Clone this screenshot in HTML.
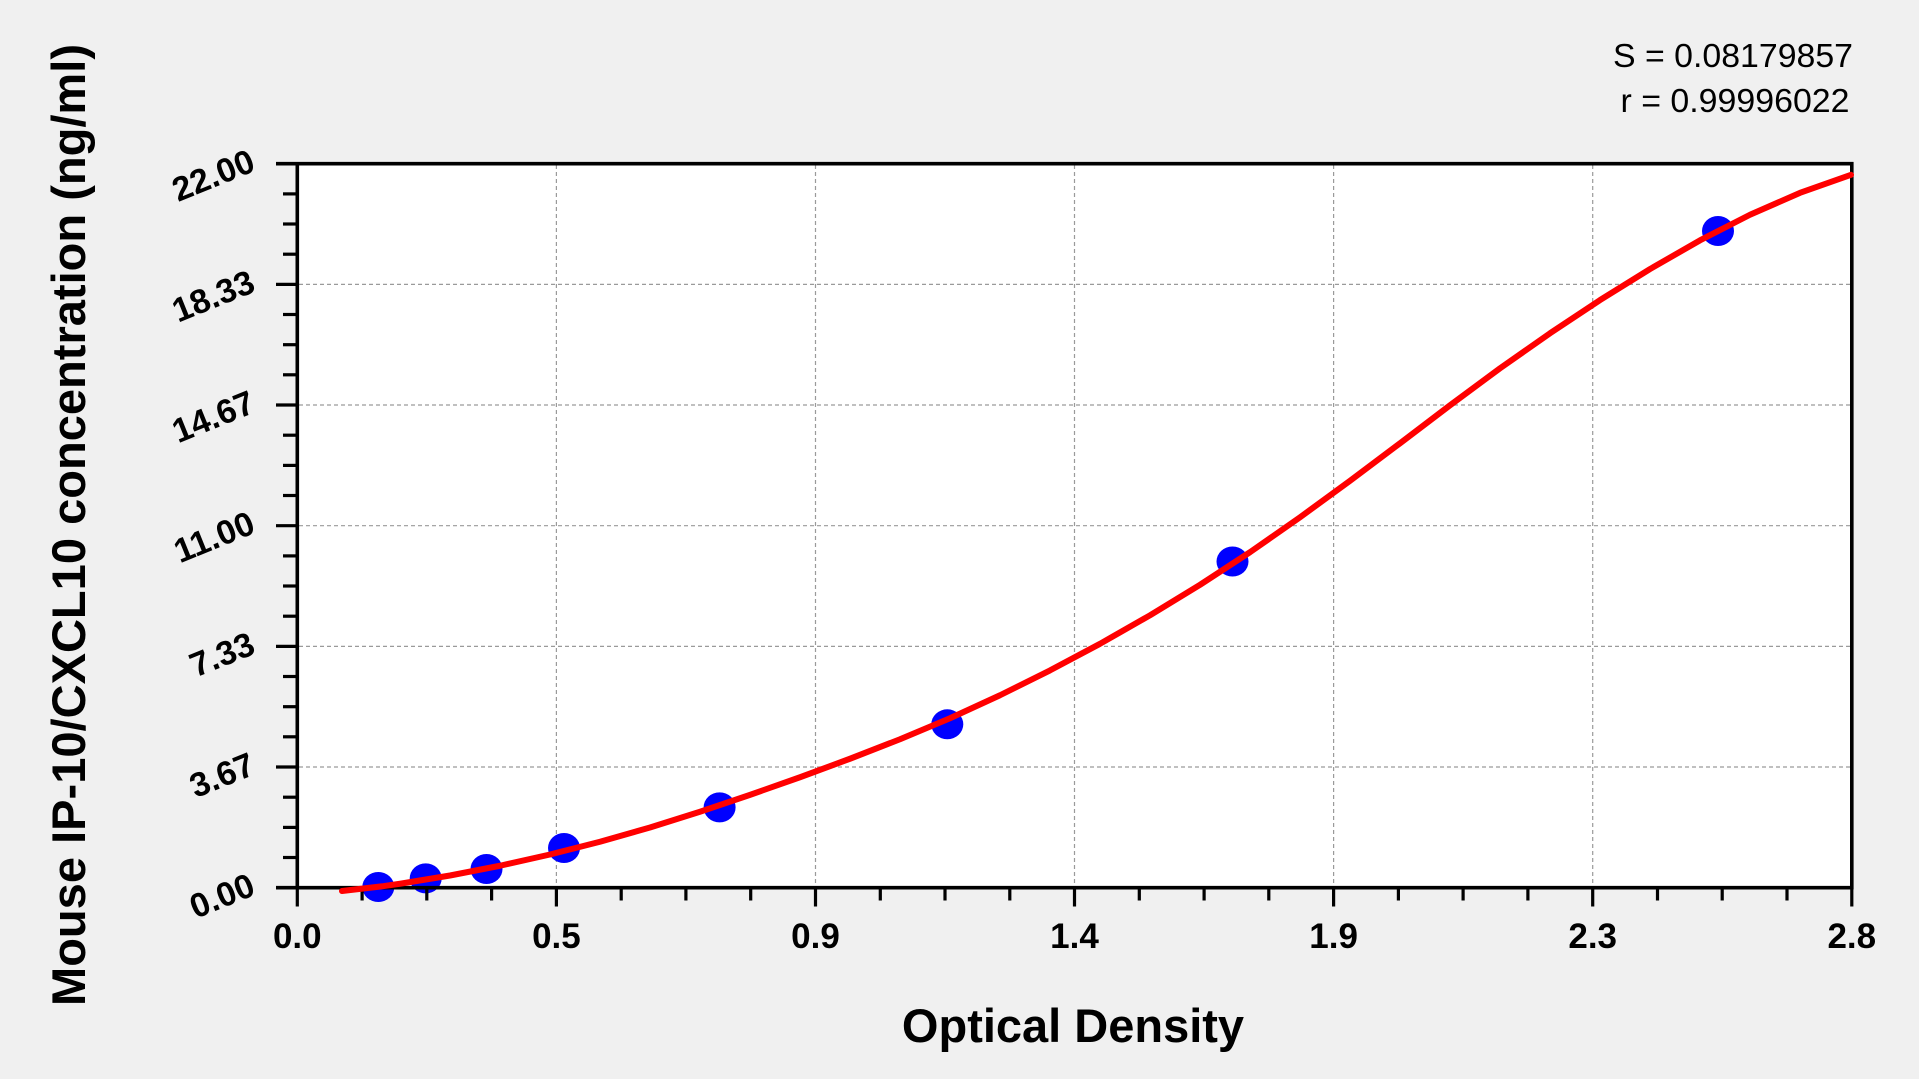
<!DOCTYPE html>
<html>
<head>
<meta charset="utf-8">
<style>
  html, body { margin: 0; padding: 0; background: #f0f0f0; }
  svg { display: block; }
  text { font-family: "Liberation Sans", Arial, sans-serif; fill: #000; }
</style>
</head>
<body>
<svg width="1919" height="1079" viewBox="0 0 1919 1079" xmlns="http://www.w3.org/2000/svg">
  <rect x="0" y="0" width="1919" height="1079" fill="#f0f0f0"/>
  <!-- plot area -->
  <rect x="297.3" y="163.7" width="1554.5" height="724" fill="#ffffff"/>

  <!-- grid -->
  <g stroke="#9a9a9a" stroke-width="1.2" stroke-dasharray="4 3" fill="none">
    <line x1="556.4" y1="165" x2="556.4" y2="886"/>
    <line x1="815.5" y1="165" x2="815.5" y2="886"/>
    <line x1="1074.5" y1="165" x2="1074.5" y2="886"/>
    <line x1="1333.6" y1="165" x2="1333.6" y2="886"/>
    <line x1="1592.7" y1="165" x2="1592.7" y2="886"/>
    <line x1="299" y1="767.0" x2="1850" y2="767.0"/>
    <line x1="299" y1="646.4" x2="1850" y2="646.4"/>
    <line x1="299" y1="525.7" x2="1850" y2="525.7"/>
    <line x1="299" y1="405.0" x2="1850" y2="405.0"/>
    <line x1="299" y1="284.4" x2="1850" y2="284.4"/>
  </g>

  <!-- data points -->
  <g fill="#0000ff">
    <ellipse cx="378.3" cy="887" rx="16" ry="15"/>
    <ellipse cx="425.7" cy="878.4" rx="16" ry="15"/>
    <ellipse cx="486.5" cy="869" rx="16" ry="15"/>
    <ellipse cx="564" cy="848" rx="16" ry="15"/>
    <ellipse cx="719.6" cy="807.4" rx="16" ry="15"/>
    <ellipse cx="947.3" cy="724.3" rx="16" ry="15"/>
    <ellipse cx="1232.5" cy="561.5" rx="16" ry="15"/>
    <ellipse cx="1718" cy="231" rx="16" ry="15"/>
  </g>

  <!-- border / axes -->
  <g stroke="#000" stroke-width="3.6" fill="none">
    <line x1="297.3" y1="162" x2="297.3" y2="889.4"/>
    <line x1="276" y1="887.7" x2="1853.5" y2="887.7"/>
    <line x1="276" y1="163.7" x2="1853.5" y2="163.7"/>
    <line x1="1851.8" y1="162" x2="1851.8" y2="889.4"/>
  </g>

  <!-- y ticks -->
  <g stroke="#000" stroke-width="3.2">
    <line x1="276" y1="767.0" x2="297" y2="767.0"/>
    <line x1="276" y1="646.4" x2="297" y2="646.4"/>
    <line x1="276" y1="525.7" x2="297" y2="525.7"/>
    <line x1="276" y1="405.0" x2="297" y2="405.0"/>
    <line x1="276" y1="284.4" x2="297" y2="284.4"/>
    <line x1="283" y1="857.5" x2="297" y2="857.5"/>
    <line x1="283" y1="827.4" x2="297" y2="827.4"/>
    <line x1="283" y1="797.2" x2="297" y2="797.2"/>
    <line x1="283" y1="736.8" x2="297" y2="736.8"/>
    <line x1="283" y1="706.7" x2="297" y2="706.7"/>
    <line x1="283" y1="676.5" x2="297" y2="676.5"/>
    <line x1="283" y1="616.2" x2="297" y2="616.2"/>
    <line x1="283" y1="586.0" x2="297" y2="586.0"/>
    <line x1="283" y1="555.9" x2="297" y2="555.9"/>
    <line x1="283" y1="495.5" x2="297" y2="495.5"/>
    <line x1="283" y1="465.4" x2="297" y2="465.4"/>
    <line x1="283" y1="435.2" x2="297" y2="435.2"/>
    <line x1="283" y1="374.8" x2="297" y2="374.8"/>
    <line x1="283" y1="344.7" x2="297" y2="344.7"/>
    <line x1="283" y1="314.5" x2="297" y2="314.5"/>
    <line x1="283" y1="254.2" x2="297" y2="254.2"/>
    <line x1="283" y1="224.0" x2="297" y2="224.0"/>
    <line x1="283" y1="193.9" x2="297" y2="193.9"/>
  </g>

  <!-- x ticks -->
  <g stroke="#000" stroke-width="3.2">
    <line x1="297.3" y1="888" x2="297.3" y2="906.5"/>
    <line x1="556.4" y1="888" x2="556.4" y2="906.5"/>
    <line x1="815.5" y1="888" x2="815.5" y2="906.5"/>
    <line x1="1074.5" y1="888" x2="1074.5" y2="906.5"/>
    <line x1="1333.6" y1="888" x2="1333.6" y2="906.5"/>
    <line x1="1592.7" y1="888" x2="1592.7" y2="906.5"/>
    <line x1="1851.8" y1="888" x2="1851.8" y2="906.5"/>
    <line x1="362.1" y1="888" x2="362.1" y2="900.5"/>
    <line x1="426.8" y1="888" x2="426.8" y2="900.5"/>
    <line x1="491.6" y1="888" x2="491.6" y2="900.5"/>
    <line x1="621.2" y1="888" x2="621.2" y2="900.5"/>
    <line x1="685.9" y1="888" x2="685.9" y2="900.5"/>
    <line x1="750.7" y1="888" x2="750.7" y2="900.5"/>
    <line x1="880.3" y1="888" x2="880.3" y2="900.5"/>
    <line x1="945.0" y1="888" x2="945.0" y2="900.5"/>
    <line x1="1009.8" y1="888" x2="1009.8" y2="900.5"/>
    <line x1="1139.3" y1="888" x2="1139.3" y2="900.5"/>
    <line x1="1204.1" y1="888" x2="1204.1" y2="900.5"/>
    <line x1="1268.8" y1="888" x2="1268.8" y2="900.5"/>
    <line x1="1398.4" y1="888" x2="1398.4" y2="900.5"/>
    <line x1="1463.1" y1="888" x2="1463.1" y2="900.5"/>
    <line x1="1527.9" y1="888" x2="1527.9" y2="900.5"/>
    <line x1="1657.5" y1="888" x2="1657.5" y2="900.5"/>
    <line x1="1722.2" y1="888" x2="1722.2" y2="900.5"/>
    <line x1="1787.0" y1="888" x2="1787.0" y2="900.5"/>
  </g>

  <!-- fitted curve -->
  <polyline fill="none" stroke="#ff0000" stroke-width="6" stroke-linejoin="round" stroke-linecap="round"
    points="342,891 383,886.2 400,883.75 450,875.5 500,865.75 550,854.5 600,841.75 650,827.5 700,811.75 750,794.85 800,777.25 850,758.75 900,739.25 950,718.25 1000,695.25 1050,670.4 1100,643.8 1150,615.3 1200,584.8 1250,552.2 1300,517.3 1350,480.8 1400,443.3 1450,405.3 1500,368.3 1550,333.3 1600,300.1 1650,269.05 1700,240.35 1750,214.75 1800,192.85 1851,174.8"/>

  <!-- x tick labels -->
  <g font-size="35" font-weight="bold" text-anchor="middle">
    <text x="297.3" y="948">0.0</text>
    <text x="556.4" y="948">0.5</text>
    <text x="815.5" y="948">0.9</text>
    <text x="1074.5" y="948">1.4</text>
    <text x="1333.6" y="948">1.9</text>
    <text x="1592.7" y="948">2.3</text>
    <text x="1851.8" y="948">2.8</text>
  </g>

  <!-- y tick labels -->
  <g font-size="34" font-weight="bold" text-anchor="end">
    <text x="257" y="894.2" transform="rotate(-22 257 894.2)">0.00</text>
    <text x="257" y="773.5" transform="rotate(-22 257 773.5)">3.67</text>
    <text x="257" y="652.9" transform="rotate(-22 257 652.9)">7.33</text>
    <text x="257" y="532.2" transform="rotate(-22 257 532.2)">11.00</text>
    <text x="257" y="411.5" transform="rotate(-22 257 411.5)">14.67</text>
    <text x="257" y="290.9" transform="rotate(-22 257 290.9)">18.33</text>
    <text x="257" y="170.2" transform="rotate(-22 257 170.2)">22.00</text>
  </g>

  <!-- axis titles -->
  <text x="1073" y="1042" font-size="47" font-weight="bold" text-anchor="middle">Optical Density</text>
  <text x="0" y="0" font-size="47" font-weight="bold" text-anchor="middle" textLength="962" lengthAdjust="spacingAndGlyphs" transform="translate(85 525) rotate(-90)">Mouse IP-10/CXCL10 concentration (ng/ml)</text>

  <!-- stats -->
  <text x="1853" y="67" font-size="33" text-anchor="end" textLength="240" lengthAdjust="spacingAndGlyphs">S = 0.08179857</text>
  <text x="1849.5" y="112" font-size="33" text-anchor="end" textLength="229" lengthAdjust="spacingAndGlyphs">r = 0.99996022</text>
</svg>
</body>
</html>
